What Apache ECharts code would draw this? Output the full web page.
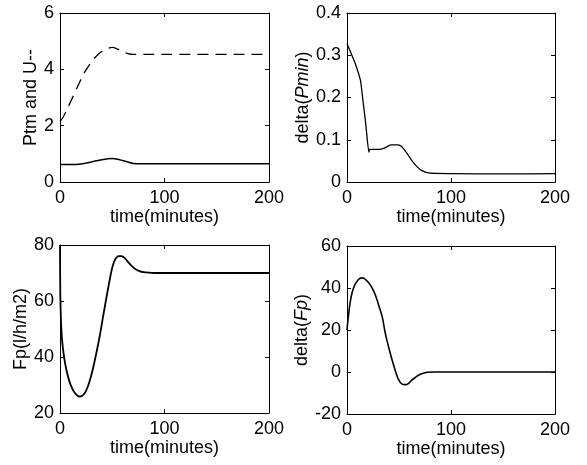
<!DOCTYPE html>
<html><head><meta charset="utf-8">
<script src="https://cdn.jsdelivr.net/npm/echarts@6/dist/echarts.min.js"></script>
<style>html,body{margin:0;padding:0;background:#fff}#c{width:587px;height:465px}</style>
</head><body><div id="c"></div><script>
// ---- data ----
const xLabelName = 'time(minutes)';
const xMin = 0, xMax = 200, xStep = 100;

// Top-left: Ptm (solid) and U (dashed)
const tU   = [0, 3, 7, 12, 17, 22, 27, 32, 38, 44, 50, 55, 60, 65, 70, 80, 200];
const uVal = [2.15, 2.3, 2.6, 3.0, 3.4, 3.8, 4.1, 4.35, 4.58, 4.72, 4.78, 4.72, 4.62, 4.56, 4.53, 4.53, 4.53];
const tPtm   = [0, 10, 20, 30, 40, 50, 55, 60, 65, 70, 80, 200];
const ptmVal = [0.62, 0.62, 0.64, 0.71, 0.79, 0.83, 0.81, 0.76, 0.71, 0.66, 0.65, 0.65];

// Top-right: delta(Pmin)
const tDP  = [0, 3, 8, 13, 15, 18, 21, 22, 30, 36, 42, 48, 52, 57, 62, 67, 72, 80, 100, 150, 200];
const dPVal = [0.327, 0.31, 0.28, 0.24, 0.2, 0.138, 0.071, 0.077, 0.077, 0.08, 0.088, 0.088, 0.085, 0.07, 0.052, 0.037, 0.027, 0.021, 0.02, 0.019, 0.02];

// Bottom-left: Fp
const tFp  = [0, 0.3, 1, 2, 3.5, 5, 7, 9, 11, 13, 15, 17, 19, 21, 23, 25, 27, 29, 31, 33, 35, 38, 41, 44, 47, 50, 53, 56, 59, 62, 65, 68, 72, 76, 80, 85, 90, 200];
const fpVal = [80, 62, 52, 46, 41, 37.5, 34, 31.3, 29.3, 27.8, 26.8, 26.1, 25.9, 26.1, 26.8, 28, 29.8, 32.2, 35, 38.3, 41.8, 47.4, 54, 60.3, 66.5, 72, 75, 76, 76, 75.3, 74, 72.7, 71.4, 70.7, 70.3, 70.1, 70, 70];

// Bottom-right: delta(Fp)
const tDF  = [0, 1, 3, 5, 8, 12, 15, 19, 23, 27, 31, 34, 37, 41, 45, 49, 53, 56, 59, 62, 66, 70, 76, 85, 200];
const dFVal = [20, 25, 33, 38, 42, 44.5, 44.8, 43.5, 41, 37, 31, 26, 18, 10, 3, -3, -5.8, -6, -5.5, -4, -2.5, -1.2, -0.2, 0, 0];

// y axes: [min, max, interval]
const yRanges = [[0, 6, 2], [0, 0.4, 0.1], [20, 80, 20], [-20, 60, 20]];

// ---- chart ----
const FONT = 'Liberation Sans';
const pairs = (t, v) => t.map((x, i) => [x, v[i]]);

const grids = [
  {left: 60, top: 13, width: 209, height: 169},
  {left: 347, top: 13, width: 208, height: 169},
  {left: 60, top: 245, width: 209, height: 168},
  {left: 347, top: 246, width: 208, height: 168}
];
const yNames = [
  {text: 'Ptm and U--', gap: 20},
  {text: '{n|delta(}{i|Pmin}{n|)}', gap: 30},
  {text: 'Fp(l/h/m2)', gap: 25},
  {text: '{n|delta(}{i|Fp}{n|)}', gap: 30}
];

const xAxes = [], yAxes = [];
grids.forEach((g, k) => {
  xAxes.push({
    type: 'value', gridIndex: k, min: xMin, max: xMax, interval: xStep, position: 'bottom',
    name: xLabelName, nameLocation: 'middle', nameGap: 19,
    nameTextStyle: {fontFamily: FONT, fontSize: 18, color: '#000'},
    axisLine: {show: true, onZero: false, lineStyle: {color: '#000', width: 1}},
    axisTick: {show: true, inside: true, length: 4, lineStyle: {color: '#000'}},
    axisLabel: {fontFamily: FONT, fontSize: 18, color: '#000', margin: 7},
    splitLine: {show: false}
  });
  xAxes.push({
    type: 'value', gridIndex: k, min: xMin, max: xMax, interval: xStep, position: 'top',
    axisLine: {show: true, onZero: false, lineStyle: {color: '#000', width: 1}},
    axisTick: {show: true, inside: true, length: 4, lineStyle: {color: '#000'}},
    axisLabel: {show: false}, splitLine: {show: false}
  });
  const r = yRanges[k];
  yAxes.push({
    type: 'value', gridIndex: k, min: r[0], max: r[1], interval: r[2], position: 'left',
    name: yNames[k].text, nameLocation: 'middle', nameGap: yNames[k].gap, nameRotate: 90,
    nameTextStyle: {fontFamily: FONT, fontSize: 18, color: '#000',
      rich: {n: {fontFamily: FONT, fontSize: 18, color: '#000'},
             i: {fontFamily: FONT, fontSize: 18, color: '#000', fontStyle: 'italic'}}},
    axisLine: {show: true, onZero: false, lineStyle: {color: '#000', width: 1}},
    axisTick: {show: true, inside: true, length: 4, lineStyle: {color: '#000'}},
    axisLabel: {fontFamily: FONT, fontSize: 18, color: '#000', margin: 6},
    splitLine: {show: false}
  });
  yAxes.push({
    type: 'value', gridIndex: k, min: r[0], max: r[1], interval: r[2], position: 'right',
    axisLine: {show: true, onZero: false, lineStyle: {color: '#000', width: 1}},
    axisTick: {show: true, inside: true, length: 4, lineStyle: {color: '#000'}},
    axisLabel: {show: false}, splitLine: {show: false}
  });
});

const lineBase = {type: 'line', symbol: 'none', smooth: 0.3, silent: true, animation: false};
const series = [
  Object.assign({}, lineBase, {name: 'U', xAxisIndex: 0, yAxisIndex: 0, data: pairs(tU, uVal),
    lineStyle: {color: '#000', width: 1.3, type: [11, 7]}}),
  Object.assign({}, lineBase, {name: 'Ptm', xAxisIndex: 0, yAxisIndex: 0, data: pairs(tPtm, ptmVal),
    lineStyle: {color: '#000', width: 1.5}}),
  Object.assign({}, lineBase, {name: 'delta(Pmin)', xAxisIndex: 2, yAxisIndex: 2, data: pairs(tDP, dPVal),
    smooth: 0.15, lineStyle: {color: '#000', width: 1.3}}),
  Object.assign({}, lineBase, {name: 'Fp', xAxisIndex: 4, yAxisIndex: 4, data: pairs(tFp, fpVal),
    smooth: 0.2, lineStyle: {color: '#000', width: 1.8}}),
  Object.assign({}, lineBase, {name: 'delta(Fp)', xAxisIndex: 6, yAxisIndex: 6, data: pairs(tDF, dFVal),
    lineStyle: {color: '#000', width: 1.6}})
];

const chart = echarts.init(document.getElementById('c'), null, {renderer: 'canvas'});
chart.setOption({
  animation: false,
  backgroundColor: '#fff',
  grid: grids,
  xAxis: xAxes,
  yAxis: yAxes,
  series: series
});
</script></body></html>
